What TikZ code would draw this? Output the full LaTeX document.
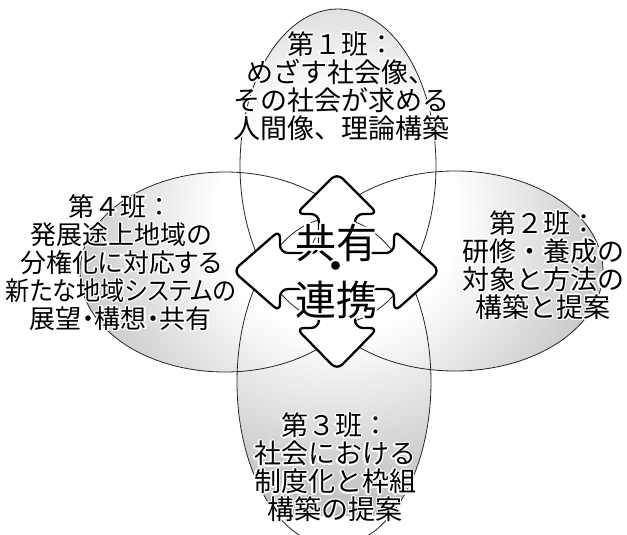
\documentclass[tikz,border=0pt]{standalone}
\usepackage{fontspec}
\newfontfamily\jp{Noto Sans CJK JP}
\newfontfamily\jpp[RawFeature=+palt]{Noto Sans CJK JP}
\pgfdeclareradialshading{hub}{\pgfpoint{0bp}{0bp}}{color(0bp)=(white); color(10bp)=(white); color(25bp)=(black!26); color(50bp)=(black!26)}
\newcommand\hl[2][1.4pt]{\leavevmode\setbox0=\hbox{#2}%
  \rlap{\color{white}\foreach \a in {0,30,...,330}{%
    \pgfmathsetlengthmacro\dx{#1*cos(\a)}\pgfmathsetlengthmacro\dy{#1*sin(\a)}%
    \rlap{\kern\dx\raise\dy\copy0}}}%
  \box0}
\tikzset{
  petalline/.style={draw=black!85, line width=0.8pt},
  arrowshape/.style={draw=black, line width=2.3pt, fill=white, rounded corners=8pt, line join=round},
  grouptext/.style={inner sep=0pt, align=center, font=\jp\fontsize{27}{28}\selectfont},
  centertext/.style={inner sep=0pt, font=\jp\fontsize{41}{41}\selectfont},
}
\begin{document}
\begin{tikzpicture}[x=1pt,y=-1pt]
\lineskiplimit=-50pt
\clip (0,0) rectangle (627,535);
% petal fills: one shading that greys outward from a point above the hub
\begin{scope}
\clip (338,166) ellipse [x radius=98pt, y radius=157pt]
      (455,271) ellipse [x radius=148pt, y radius=100pt]
      (334,382) ellipse [x radius=97pt, y radius=164pt]
      (225,272) ellipse [x radius=145pt, y radius=100pt];
\shade[shading=hub] (37,-85) rectangle (637,515);
\end{scope}
% petal outlines
\draw[petalline] (338,166) ellipse [x radius=98pt, y radius=157pt];
\draw[petalline] (455,271) ellipse [x radius=148pt, y radius=100pt];
\draw[petalline] (334,382) ellipse [x radius=97pt, y radius=164pt];
\draw[petalline] (225,272) ellipse [x radius=145pt, y radius=100pt];
% four-way arrow
\begin{scope}[shift={(337,271)}]
\draw[arrowshape] (0,-98) -- (41,-57) -- (18,-57) -- (18,-18) -- (57,-18) -- (57,-41) -- (103,0)
  -- (57,41) -- (57,18) -- (18,18) -- (18,57) -- (41,57) -- (0,99) -- (-41,57) -- (-18,57)
  -- (-18,18) -- (-57,18) -- (-57,41) -- (-104,0) -- (-57,-41) -- (-57,-18) -- (-18,-18)
  -- (-18,-57) -- (-41,-57) -- cycle;
\end{scope}
% texts
\node[grouptext] (g1) at (341,86) {\hl{第１班：}\\\hl{めざす社会像、}\\\hl{その社会が求める}\\\hl{人間像、理論構築}};
\node[grouptext] (g2) at (543,265) {\hl{第２班：}\\\hl{研修・養成の}\\\hl{対象と方法の}\\\hl{構築と提案}};
\node[grouptext] (g3) at (335,467.5) {\hl{第３班：}\\\hl{社会における}\\\hl{制度化と枠組}\\\hl{構築の提案}};
\node[grouptext, font=\jpp\fontsize{26}{28}\selectfont] (g4) at (121,262.5) {\hl{\jp 第４班：}\\\hl{発展途上地域の}\\\hl{分権化に対応する}\\\scalebox{0.93}[1]{\hl{新たな地域システムの}}\\\hl{展望・構想・共有}};
\node[centertext] (c1) at (336,243) {\hl[2pt]{共有}};
\node[centertext] (c2) at (336,272) {\hl[2pt]{・}};
\node[centertext] (c3) at (336,300) {\hl[2pt]{連携}};
\end{tikzpicture}
\end{document}
